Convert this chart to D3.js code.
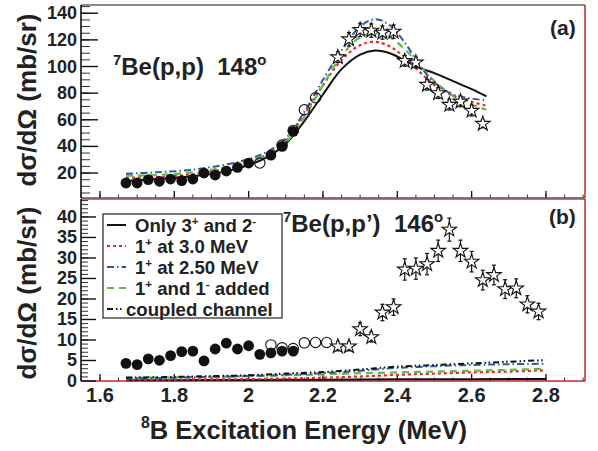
<!DOCTYPE html>
<html><head><meta charset="utf-8">
<script src="https://cdn.jsdelivr.net/npm/d3@7"></script>
<style>
body{margin:0;background:#fff}
svg{display:block}
text{font-family:"Liberation Sans",Arial,Helvetica,sans-serif;font-weight:bold;fill:#222;white-space:pre}
</style>
</head><body>
<svg id="c" width="598" height="451"></svg>
<script>
// ---------- data ----------
const xTicks = [1.6, 1.8, 2.0, 2.2, 2.4, 2.6, 2.8];
const xTickLabels = ["1.6", "1.8", "2", "2.2", "2.4", "2.6", "2.8"];
const yTicksA = [20, 40, 60, 80, 100, 120, 140];
const yTicksB = [0, 5, 10, 15, 20, 25, 30, 35, 40];

// panel (a) 7Be(p,p) 148 deg
const aFilledE = [1.67, 1.70, 1.73, 1.76, 1.79, 1.82, 1.85, 1.88, 1.91, 1.94, 1.97, 2.00, 2.06, 2.09, 2.12];
const aFilledV = [12.5, 12.5, 15, 13.8, 15.5, 14.3, 15.5, 20, 18.5, 21.5, 24.3, 27.5, 33.5, 40, 51.3];
const aOpenE = [2.03, 2.09, 2.12, 2.15, 2.18];
const aOpenV = [27.5, 41, 52, 67.5, 76.5];
const aStarE = [2.24, 2.27, 2.30, 2.33, 2.36, 2.39, 2.42, 2.45, 2.48, 2.51, 2.54, 2.57, 2.60, 2.63];
const aStarV = [107, 120.5, 127.5, 127, 125.5, 126.2, 104.2, 103, 86.3, 80, 71.3, 73.7, 66.8, 57];
const aStarErr = [4, 5, 5, 5, 5, 5, 4, 4, 4, 4, 4, 4, 4, 3];

const thE_A = [1.67, 1.75, 1.85, 1.95, 2.00, 2.05, 2.10, 2.15, 2.20, 2.25, 2.30, 2.34, 2.38, 2.42, 2.46, 2.50, 2.55, 2.60, 2.64];
const aOnly   = [14, 15.5, 17.5, 22, 26, 32, 42, 59, 79, 98, 109, 112, 110, 104.5, 99, 95, 89, 83, 77.5];
const a1p30   = [16.5, 17, 19, 24, 28, 34, 44, 64, 86, 105, 116, 118.5, 115, 107, 96, 86, 78, 73.5, 70.5];
const a1p250  = [19.5, 20.5, 22.5, 27, 30.5, 36, 46, 66, 90, 112, 130, 135.5, 131, 118, 101, 88, 79, 76, 74.5];
const a1pm    = [18, 18.5, 20.5, 25, 28.5, 34, 43, 62, 86, 108, 122, 125, 122, 113, 101, 89, 78, 71.5, 67.5];

// panel (b) 7Be(p,p') 146 deg
const bFilledE = [1.67, 1.70, 1.73, 1.76, 1.79, 1.82, 1.85, 1.88, 1.91, 1.94, 1.97, 2.00, 2.03, 2.06, 2.09, 2.12];
const bFilledV = [4.3, 4.0, 5.4, 5.05, 6.2, 7.15, 7.3, 4.9, 7.8, 9.25, 7.8, 8.6, 6.5, 6.85, 7.3, 7.3];
const bOpenE = [2.06, 2.09, 2.12, 2.15, 2.18, 2.21];
const bOpenV = [8.8, 8.1, 7.9, 9.3, 9.4, 9.4];
const bStarE = [2.24, 2.27, 2.30, 2.33, 2.36, 2.39, 2.42, 2.45, 2.48, 2.51, 2.54, 2.57, 2.60, 2.63, 2.66, 2.69, 2.72, 2.75, 2.78];
const bStarV = [8.45, 8.45, 12.65, 10.7, 16.7, 18.0, 27.2, 27.4, 28.5, 31.75, 36.9, 31.75, 29.1, 24.6, 25.85, 22.4, 22.6, 18.7, 16.95];
const bStarErr = [1.1, 1.1, 1.6, 1.2, 2.0, 2.0, 2.6, 2.6, 2.6, 2.6, 2.8, 2.6, 2.5, 2.4, 2.4, 2.3, 2.3, 2.1, 2.0];

const thE_B = [1.67, 1.80, 1.90, 2.00, 2.10, 2.20, 2.30, 2.40, 2.50, 2.60, 2.70, 2.80];
const bOnly    = [0.2, 0.2, 0.25, 0.25, 0.3, 0.3, 0.35, 0.4, 0.4, 0.45, 0.5, 0.5];
const b1p30    = [0.3, 0.35, 0.4, 0.45, 0.6, 0.8, 1.1, 1.5, 1.8, 2.1, 2.3, 2.6];
const b1p250   = [0.6, 0.8, 1.0, 1.2, 1.5, 1.9, 2.5, 3.2, 3.6, 3.9, 4.1, 4.2];
const b1pm     = [0.8, 0.9, 1.0, 1.2, 1.4, 1.6, 1.9, 2.1, 2.3, 2.5, 2.7, 3.0];
const bCoupled = [0.8, 1.0, 1.2, 1.4, 1.8, 2.2, 2.8, 3.5, 3.9, 4.3, 4.7, 5.1];

const legendLabels = [
  [["Only 3"], ["+", 1], [" and 2"], ["-", 1]],
  [["1"], ["+", 1], [" at 3.0 MeV"]],
  [["1"], ["+", 1], [" at 2.50 MeV"]],
  [["1"], ["+", 1], [" and 1"], ["-", 1], [" added"]],
  [["coupled channel"]]
];

// ---------- styles ----------
const RED = "#e8262b", BLUE = "#2f58a8", GREEN = "#62ba44", BLK = "#111";
const styles = {
  only:    {stroke: BLK,   dash: null,              w: 2},
  p30:     {stroke: RED,   dash: "3,3",             w: 2.2},
  p250:    {stroke: BLUE,  dash: "7,3,1.5,3",       w: 2},
  pm:      {stroke: GREEN, dash: "7,5",             w: 2.2},
  coupled: {stroke: BLK,   dash: "6,3,1.5,2.5,1.5,3", w: 2}
};

const svg = d3.select("#c");
const L = 81, R = 585;
const x = d3.scaleLinear().domain([1.549, 2.905]).range([L, R]);
const yA = d3.scaleLinear().domain([1.25, 146.2]).range([198, 5]);
const yB = d3.scaleLinear().domain([0, 44.5]).range([381, 198.5]);

function rich(sel, parts, fs, up) {
  const k = up || 0.42;
  let shifted = false;
  parts.forEach(p => {
    const t = sel.append("tspan").text(p[0]);
    if (p[1]) {
      t.attr("font-size", fs * 0.62).attr("dy", shifted ? 0 : -fs * k);
      shifted = true;
    } else {
      t.attr("font-size", fs).attr("dy", shifted ? fs * k : 0);
      shifted = false;
    }
  });
}

function frame(y, top, bottom, minorY, majorY, majLen, minLen, labels) {
  const g = svg.append("g");
  g.append("line").attr("x1", L).attr("x2", R).attr("y1", top).attr("y2", top).attr("stroke", "#666").attr("stroke-width", 1.5);
  g.append("line").attr("x1", R).attr("x2", R).attr("y1", top).attr("y2", bottom).attr("stroke", "#c0282d").attr("stroke-width", 1.5);
  const xmin = d3.range(1.55, 2.9001, 0.05);
  g.selectAll(null).data(xmin).join("line")
    .attr("x1", d => x(d)).attr("x2", d => x(d))
    .attr("y1", bottom).attr("y2", bottom - 3.5).attr("stroke", "#333").attr("stroke-width", 1);
  g.selectAll(null).data(xTicks).join("line")
    .attr("x1", d => x(d)).attr("x2", d => x(d))
    .attr("y1", bottom).attr("y2", bottom - 7).attr("stroke", "#111").attr("stroke-width", 1.3);
  g.append("line").attr("x1", L).attr("x2", R).attr("y1", bottom).attr("y2", bottom).attr("stroke", "#c0282d").attr("stroke-width", 1.6);
  g.selectAll(null).data(minorY).join("line")
    .attr("x1", L).attr("x2", L + minLen).attr("y1", d => y(d)).attr("y2", d => y(d)).attr("stroke", "#333").attr("stroke-width", 1);
  g.selectAll(null).data(majorY).join("line")
    .attr("x1", L).attr("x2", L + majLen).attr("y1", d => y(d)).attr("y2", d => y(d)).attr("stroke", "#111").attr("stroke-width", 1.4);
  g.append("line").attr("x1", L).attr("x2", L).attr("y1", top).attr("y2", bottom).attr("stroke", "#111").attr("stroke-width", 1.6);
  g.selectAll(null).data(labels).join("text")
    .attr("x", L - 4).attr("y", d => y(d)).attr("text-anchor", "end").attr("dominant-baseline", "central")
    .attr("font-size", 18).text(d => d);
}

frame(yA, 5, 198, d3.range(5, 146, 5), yTicksA, 17, 9, yTicksA);
frame(yB, 199, 381, d3.range(1, 44.5, 1), yTicksB, 15, 7, yTicksB);

// ---------- curves ----------
function curve(y, E, V, st) {
  const line = d3.line().x((d, i) => x(E[i])).y(d => y(d)).curve(d3.curveCatmullRom.alpha(0.5));
  svg.append("path").datum(V).attr("d", line).attr("fill", "none")
    .attr("stroke", st.stroke).attr("stroke-width", st.w)
    .attr("stroke-dasharray", st.dash);
}

curve(yA, thE_A, aOnly, styles.only);
curve(yA, thE_A, a1p30, styles.p30);
curve(yA, thE_A, a1pm, styles.pm);
curve(yA, thE_A, a1p250, styles.p250);

curve(yB, thE_B, bOnly, styles.only);
curve(yB, thE_B, b1p30, styles.p30);
curve(yB, thE_B, b1pm, styles.pm);
curve(yB, thE_B, b1p250, styles.p250);
curve(yB, thE_B, bCoupled, styles.coupled);

// ---------- markers ----------
function filled(y, E, V) {
  svg.append("g").selectAll("circle").data(V).join("circle")
    .attr("cx", (d, i) => x(E[i])).attr("cy", d => y(d)).attr("r", 5.4).attr("fill", "#111");
}
function open(y, E, V) {
  svg.append("g").selectAll("circle").data(V).join("circle")
    .attr("cx", (d, i) => x(E[i])).attr("cy", d => y(d)).attr("r", 5.2)
    .attr("fill", "none").attr("stroke", "#111").attr("stroke-width", 1.1);
}
const starPath = d3.symbol(d3.symbolStar, 66)();
function stars(y, E, V, Err) {
  const g = svg.append("g");
  V.forEach((v, i) => {
    const cx = x(E[i]);
    const y1 = y(v + Err[i]), y2 = y(v - Err[i]);
    g.append("line").attr("x1", cx).attr("x2", cx).attr("y1", y1).attr("y2", y2).attr("stroke", "#111").attr("stroke-width", 1.2);
    g.append("line").attr("x1", cx - 2).attr("x2", cx + 2).attr("y1", y1).attr("y2", y1).attr("stroke", "#111").attr("stroke-width", 1.2);
    g.append("line").attr("x1", cx - 2).attr("x2", cx + 2).attr("y1", y2).attr("y2", y2).attr("stroke", "#111").attr("stroke-width", 1.2);
    g.append("path").attr("d", starPath).attr("transform", `translate(${cx},${y(v)})`)
      .attr("fill", "#fff").attr("stroke", "#111").attr("stroke-width", 1.1);
  });
}

filled(yA, aFilledE, aFilledV);
open(yA, aOpenE, aOpenV);
stars(yA, aStarE, aStarV, aStarErr);

filled(yB, bFilledE, bFilledV);
open(yB, bOpenE, bOpenV);
stars(yB, bStarE, bStarV, bStarErr);

// ---------- texts ----------
rich(svg.append("text").attr("x", 113).attr("y", 75), [["7", 1], ["Be(p,p)  148"], ["o", 1]], 24);
rich(svg.append("text").attr("x", 283).attr("y", 232), [["7", 1], ["Be(p,p\u2019)  146"], ["o", 1]], 24);
svg.append("text").attr("x", 550).attr("y", 35).attr("font-size", 21).text("(a)");
svg.append("text").attr("x", 549).attr("y", 224).attr("font-size", 21).text("(b)");

// x tick labels
svg.append("g").selectAll("text").data(xTicks).join("text")
  .attr("x", d => x(d)).attr("y", 402).attr("text-anchor", "middle").attr("font-size", 20)
  .text((d, i) => xTickLabels[i]);

// axis titles
rich(svg.append("text").attr("x", 304).attr("y", 439).attr("text-anchor", "middle"),
  [["8", 1], ["B Excitation Energy (MeV)"]], 25.5);
svg.append("text").attr("transform", "translate(36,100) rotate(-90)").attr("text-anchor", "middle")
  .attr("font-size", 26).text("d\u03c3/d\u03a9 (mb/sr)");
svg.append("text").attr("transform", "translate(36,293) rotate(-90)").attr("text-anchor", "middle")
  .attr("font-size", 26).text("d\u03c3/d\u03a9 (mb/sr)");

// ---------- legend ----------
const lg = svg.append("g");
lg.append("rect").attr("x", 103).attr("y", 214).attr("width", 179).attr("height", 104)
  .attr("fill", "#fff").attr("stroke", "#222").attr("stroke-width", 1.2);
const lgStyles = [styles.only, styles.p30, styles.p250, styles.pm, styles.coupled];
lgStyles.forEach((st, i) => {
  const yy = 225 + i * 21;
  lg.append("line").attr("x1", 107).attr("x2", i === 4 ? 124 : 126).attr("y1", yy).attr("y2", yy)
    .attr("stroke", st.stroke).attr("stroke-width", st.w).attr("stroke-dasharray", st.dash);
  const t = lg.append("text").attr("x", i === 4 ? 126 : 135).attr("y", yy + 6.5);
  rich(t, legendLabels[i], 18.6, 0.36);
});
</script>
</body></html>
